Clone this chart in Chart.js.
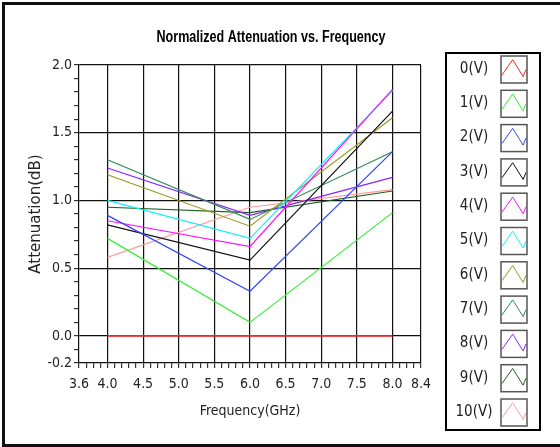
<!DOCTYPE html>
<html>
<head>
<meta charset="utf-8">
<title>Normalized Attenuation vs. Frequency</title>
<script src="https://cdn.jsdelivr.net/npm/chart.js@4.4.1/dist/chart.umd.min.js"></script>
<style>
  html, body { margin: 0; padding: 0; background: #ffffff; }
  #wrap { width: 560px; height: 447px; }
</style>
</head>
<body>
<div id="wrap"><canvas id="attenuationChart" width="560" height="447"></canvas></div>
<script>
// Frequencies (GHz) where every curve was measured
var frequencies = [4.0, 6.0, 8.0];

// Normalized attenuation (dB) per control voltage
var att0V = [0.00, 0.00, 0.00];
var att1V = [0.72, 0.10, 0.91];
var att2V = [0.89, 0.33, 1.36];
var att3V = [0.82, 0.56, 1.66];
var att4V = [0.85, 0.66, 1.82];
var att5V = [1.00, 0.72, 1.81];
var att6V = [1.19, 0.81, 1.61];
var att7V = [1.30, 0.86, 1.36];
var att8V = [1.24, 0.89, 1.17];
var att9V = [0.95, 0.91, 1.07];
var att10V = [0.58, 0.95, 1.08];

var seriesNames = ["0(V)", "1(V)", "2(V)", "3(V)", "4(V)", "5(V)", "6(V)", "7(V)", "8(V)", "9(V)", "10(V)"];
var seriesValues = [att0V, att1V, att2V, att3V, att4V, att5V, att6V, att7V, att8V, att9V, att10V];
var seriesColors = ["#ff2222", "#33ee33", "#3344ff", "#111111", "#ff11ff", "#11eeff",
                    "#99991f", "#2e8b57", "#8a22ff", "#1f5f1f", "#ff9a9a"];

// Labelled ticks on each axis
var xTickLabels = [3.6, 4.0, 4.5, 5.0, 5.5, 6.0, 6.5, 7.0, 7.5, 8.0, 8.4];
var yTickLabels = [-0.2, 0.0, 0.5, 1.0, 1.5, 2.0];
// Lines drawn across the plot
var xGridValues = [4.0, 4.5, 5.0, 5.5, 6.0, 6.5, 7.0, 7.5, 8.0, 8.4];
var yGridValues = [0.0, 0.5, 1.0, 1.5, 2.0];

var chartTitle = "Normalized Attenuation vs. Frequency";
var narrowFont = "'DejaVu Sans Condensed', 'Liberation Sans Narrow', sans-serif";

function inList(value, list) {
  for (var i = 0; i < list.length; i++) {
    if (Math.abs(list[i] - value) < 1e-6) return true;
  }
  return false;
}

// Minor ticks every 0.1 between min and max
function tenthTicks(min, max) {
  var ticks = [];
  for (var i = Math.round(min * 10); i <= Math.round(max * 10); i++) {
    ticks.push({ value: i / 10 });
  }
  return ticks;
}

function buildDatasets() {
  var datasets = [];
  for (var s = 0; s < seriesNames.length; s++) {
    var points = [];
    for (var i = 0; i < frequencies.length; i++) {
      points.push({ x: frequencies[i], y: seriesValues[s][i] });
    }
    datasets.push({
      label: seriesNames[s],
      data: points,
      borderColor: seriesColors[s],
      backgroundColor: seriesColors[s],
      borderWidth: s === 0 ? 1.8 : 1.2, // 0(V) sits on the zero gridline
      pointRadius: 0,
      tension: 0,
      fill: false
    });
  }
  return datasets;
}

// Outer frame lines of the panel + the title (squeezed like the original narrow font)
var framePlugin = {
  id: "frame",
  afterDraw: function (chart) {
    var ctx = chart.ctx;
    ctx.save();
    ctx.strokeStyle = "#111";
    ctx.lineWidth = 3;
    ctx.beginPath();
    ctx.moveTo(560, 3.5);
    ctx.lineTo(3.5, 3.5);
    ctx.lineTo(3.5, 445.5);
    ctx.lineTo(560, 445.5);
    ctx.stroke();

    ctx.fillStyle = "#000";
    ctx.font = "bold 16px 'Liberation Sans', Arial, sans-serif";
    ctx.textAlign = "center";
    ctx.textBaseline = "middle";
    ctx.fillText(chartTitle, 271, 38, 229);
    ctx.restore();
  }
};

// Legend box on the right: label then a small zigzag sample
var sideLegendPlugin = {
  id: "sideLegend",
  afterDraw: function (chart) {
    var ctx = chart.ctx;
    var boxLeft = 446, boxTop = 53, boxRight = 540, boxBottom = 430;
    ctx.save();
    ctx.strokeStyle = "#000";
    ctx.lineWidth = 2;
    ctx.strokeRect(boxLeft, boxTop, boxRight - boxLeft, boxBottom - boxTop);

    var step = 34.3;
    chart.data.datasets.forEach(function (ds, i) {
      var top = 56 + i * step;
      // label
      ctx.fillStyle = "#222";
      ctx.font = "15px " + narrowFont;
      ctx.textAlign = "center";
      ctx.textBaseline = "middle";
      ctx.fillText(ds.label, 474, top + 13);
      // swatch
      var sx = 501, sw = 26, sh = 27;
      ctx.strokeStyle = "#555";
      ctx.lineWidth = 1.5;
      ctx.strokeRect(sx, top, sw, sh);
      ctx.strokeStyle = ds.borderColor;
      ctx.lineWidth = 1;
      ctx.beginPath();
      ctx.moveTo(sx + 1, top + sh * 0.7);
      ctx.lineTo(sx + sw * 0.45, top + sh * 0.14);
      ctx.lineTo(sx + sw * 0.85, top + sh * 0.76);
      ctx.lineTo(sx + sw - 1, top + sh * 0.5);
      ctx.stroke();
    });
    ctx.restore();
  }
};

var attenuationChart = new Chart(document.getElementById("attenuationChart"), {
  type: "line",
  data: { datasets: buildDatasets() },
  options: {
    responsive: false,
    animation: false,
    layout: { padding: { left: 0, right: 139, top: 65, bottom: 0 } },
    plugins: {
      legend: { display: false },
      tooltip: { enabled: false },
      title: { display: false }
    },
    scales: {
      x: {
        type: "linear",
        min: 3.6,
        max: 8.4,
        afterBuildTicks: function (scale) { scale.ticks = tenthTicks(3.6, 8.4); },
        afterFit: function (scale) { scale.height = 84; },
        ticks: {
          autoSkip: false,
          maxRotation: 0,
          padding: 8,
          color: "#222",
          font: { family: narrowFont, size: 14 },
          callback: function (value) { return inList(value, xTickLabels) ? value.toFixed(1) : ""; }
        },
        grid: {
          color: function (c) { return c.tick && inList(c.tick.value, xGridValues) ? "#111" : "rgba(0,0,0,0)"; },
          lineWidth: 1.2,
          tickColor: "#333",
          tickLength: 5
        },
        border: { display: true, color: "#111", width: 1.2 },
        title: {
          display: true,
          text: "Frequency(GHz)",
          color: "#222",
          font: { family: narrowFont, size: 14 },
          padding: { top: 0, bottom: 27 }
        }
      },
      y: {
        type: "linear",
        min: -0.2,
        max: 2.0,
        afterBuildTicks: function (scale) { scale.ticks = tenthTicks(-0.2, 2.0); },
        afterFit: function (scale) { scale.width = 79; },
        ticks: {
          autoSkip: false,
          padding: 2,
          color: "#222",
          font: { family: narrowFont, size: 14 },
          callback: function (value) { return inList(value, yTickLabels) ? value.toFixed(1) : ""; }
        },
        grid: {
          color: function (c) { return c.tick && inList(c.tick.value, yGridValues) ? "#111" : "rgba(0,0,0,0)"; },
          lineWidth: 1.2,
          tickColor: "#333",
          tickLength: 5
        },
        border: { display: true, color: "#111", width: 1.2 },
        title: {
          display: true,
          text: "Attenuation(dB)",
          color: "#222",
          font: { family: "'DejaVu Sans', Verdana, sans-serif", size: 15 },
          padding: { top: 27, bottom: 0 }
        }
      }
    }
  },
  plugins: [framePlugin, sideLegendPlugin]
});
</script>
</body>
</html>
